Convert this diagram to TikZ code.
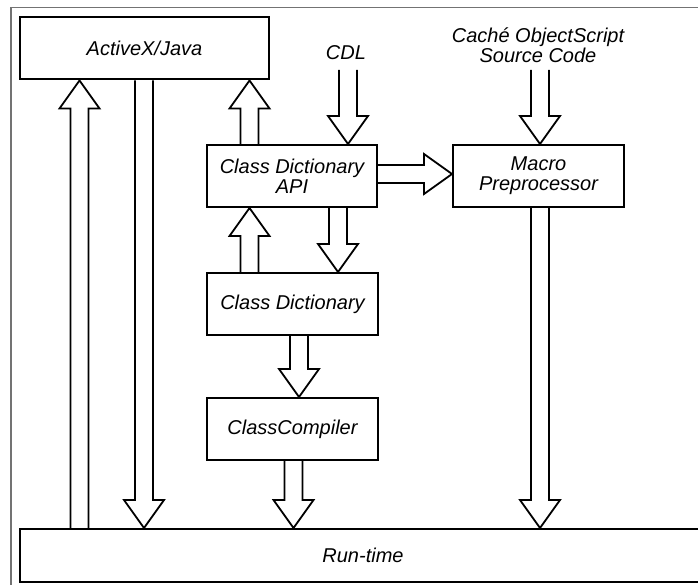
\documentclass[tikz,border=0pt]{standalone}
\usepackage{fontspec}
\setmainfont{Liberation Sans}
\usetikzlibrary{calc,positioning}

\tikzset{
  box/.style={draw, line width=2pt, minimum width=171pt, minimum height=62pt, inner sep=0pt, align=center},
  fatline/.style={draw, line width=1.8pt, line join=miter, miter limit=10},
  frame/.style={draw=black!55, line width=1.6pt}
}

% hollow block arrow from #1 to #2
\newcommand{\fatarrow}[2]{%
  \path (#1) coordinate (fs) (#2) coordinate (fe);
  \coordinate (fh) at ($(fe)!28pt!(fs)$);
  \draw[fatline] ($(fs)!9pt!90:(fe)$) -- ($(fh)!9pt!90:(fe)$) -- ($(fh)!20pt!90:(fe)$) -- (fe)
    -- ($(fh)!20pt!-90:(fe)$) -- ($(fh)!9pt!-90:(fe)$) -- ($(fs)!9pt!-90:(fe)$);
}

\begin{document}
\begin{tikzpicture}[x=1pt, y=-1pt, font={\fontsize{20}{20}\selectfont\itshape}]
\useasboundingbox (0,0) rectangle (698,585);
% outer frame
\draw[frame] (11,620) -- (11,7.5) -- (720,7.5);
% boxes
\node[box, minimum width=249pt] (activex) at (144.5,48.5) {ActiveX/Java};
\node[box, minimum width=170pt] (api) at (292,176) {Class Dictionary\\API};
\node[box] (macro) at (538.5,176) {Macro\\Preprocessor};
\node[box] (dict) at (292.5,304) {Class Dictionary};
\node[box] (compiler) at (292.5,429) {ClassCompiler};
\node[box, minimum width=686pt, minimum height=53pt] (runtime) at (363,555.5) {Run-time};
% inputs
\node (cdl) at (346,53) {CDL};
\node[align=center] (source) at (538,45) {Caché ObjectScript\\Source Code};
\coordinate (cdlin) at (348,70);
\coordinate (srcin) at (540,70);
% arrow columns
\coordinate (xa) at (79.5,0);
\coordinate (xb) at (144,0);
\coordinate (xc) at (249.5,0);
\coordinate (xd) at (338,0);
\coordinate (xe) at (299,0);
\coordinate (xf) at (293.5,0);
\coordinate (xg) at (540,0);
\coordinate (ya) at (0,174);
% arrows
\fatarrow{xa |- runtime.north}{xa |- activex.south}
\fatarrow{xb |- activex.south}{xb |- runtime.north}
\fatarrow{xc |- api.north}{xc |- activex.south}
\fatarrow{cdlin}{cdlin |- api.north}
\fatarrow{srcin}{srcin |- macro.north}
\fatarrow{api.east |- ya}{macro.west |- ya}
\fatarrow{xd |- api.south}{xd |- dict.north}
\fatarrow{xc |- dict.north}{xc |- api.south}
\fatarrow{xe |- dict.south}{xe |- compiler.north}
\fatarrow{xf |- compiler.south}{xf |- runtime.north}
\fatarrow{xg |- macro.south}{xg |- runtime.north}
\end{tikzpicture}
\end{document}
